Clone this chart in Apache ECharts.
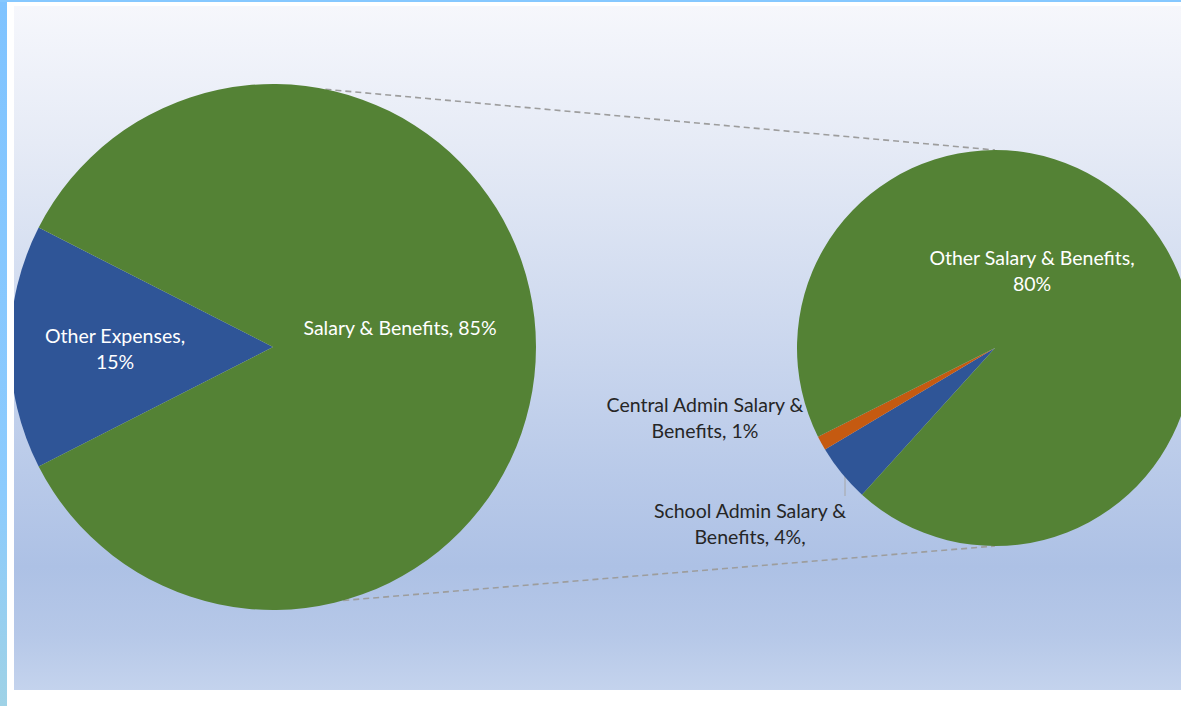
<!DOCTYPE html>
<html>
<head>
<meta charset="utf-8">
<script src="https://cdn.jsdelivr.net/npm/echarts@6/dist/echarts.min.js"></script>
<style>
  html, body { margin: 0; padding: 0; width: 1181px; height: 706px; background: #ffffff; overflow: hidden; position: relative; }
  #leftStrip { position: absolute; left: 0; top: 0; width: 7px; height: 706px; background: linear-gradient(to bottom, #7fc3ff 0%, #8ccbfd 70%, #9fd2e6 100%); }
  #topStrip { position: absolute; left: 0; top: 0; width: 1181px; height: 2px; background: #86c8ff; }
  #chart { position: absolute; left: 14px; top: 6px; width: 1167px; height: 684px;
    background: linear-gradient(to bottom, #f6f7fc 0%, #e6ebf6 20%, #cfdaef 45%, #b9cae9 68%, #adc1e5 82%, #b6c8e8 92%, #c4d3ed 100%); }
</style>
</head>
<body>
<div id="leftStrip"></div>
<div id="topStrip"></div>
<div id="chart"></div>
<script>
// ---- data ----
const mainCategories = ['Other Expenses', 'Salary & Benefits'];
const mainValues = [15, 85];
const mainLabels = ['Other Expenses,\n15%', 'Salary & Benefits, 85%'];

const detailCategories = ['School Admin Salary & Benefits', 'Central Admin Salary & Benefits', 'Other Salary & Benefits'];
const detailValues = [4, 1, 80];
const detailLabels = ['School Admin Salary &\nBenefits, 4%,', 'Central Admin Salary &\nBenefits, 1%', 'Other Salary & Benefits,\n80%'];

// ---- styles / layout ----
const GREEN = '#548235', BLUE = '#2f5597', ORANGE = '#c55a11';
const FONT = 'Lato';
const FONT_SIZE = 19.5;
const mainCenter = [259, 341], mainR = 263;
const detCenter = [981, 342], detR = 198;

const mainColors = [BLUE, GREEN];
const detailColors = [BLUE, ORANGE, GREEN];

// label anchor positions (container coords)
const mainLabelPos = [[101, 342], [386, 321]];
const detailLabelPos = [[736, 517], [691, 411], [1018, 264]];

function connector(angDeg, toY) {
  const a = angDeg * Math.PI / 180;
  return {
    type: 'line',
    silent: true,
    z: 1,
    shape: {
      x1: mainCenter[0] + mainR * Math.cos(a),
      y1: mainCenter[1] - mainR * Math.sin(a),
      x2: detCenter[0],
      y2: toY
    },
    style: { stroke: '#9d9d9d', lineWidth: 1.6, lineDash: [6, 4] }
  };
}

const chart = echarts.init(document.getElementById('chart'), null, { renderer: 'svg' });
chart.setOption({
  backgroundColor: 'transparent',
  animation: false,
  graphic: [
    connector(78.5, detCenter[1] - detR),
    connector(-74.5, detCenter[1] + detR)
  ],
  series: [
    {
      type: 'pie',
      center: mainCenter,
      radius: [0, mainR],
      startAngle: 207,
      clockwise: true,
      silent: true,
      z: 2,
      data: mainCategories.map((c, i) => ({
        name: c, value: mainValues[i], itemStyle: { color: mainColors[i] }
      })),
      itemStyle: { borderWidth: 0 },
      label: {
        show: true,
        position: 'inside',
        formatter: p => mainLabels[p.dataIndex],
        color: '#ffffff',
        fontFamily: FONT,
        fontSize: FONT_SIZE,
        lineHeight: 26,
        align: 'center'
      },
      labelLine: { show: false },
      labelLayout: p => ({
        x: mainLabelPos[p.dataIndex][0],
        y: mainLabelPos[p.dataIndex][1],
        align: 'center',
        verticalAlign: 'middle'
      })
    },
    {
      type: 'pie',
      center: detCenter,
      radius: [0, detR],
      startAngle: 227.8,
      clockwise: true,
      silent: true,
      z: 2,
      data: detailCategories.map((c, i) => ({
        name: c, value: detailValues[i], itemStyle: { color: detailColors[i] },
        label: i < 2 ? { position: 'outside', color: '#262626' } : { position: 'inside', color: '#ffffff' },
        labelLine: i === 0 ? { show: true, length: 5, length2: 5, lineStyle: { color: '#a6a6a6', width: 1 } } : { show: false }
      })),
      itemStyle: { borderWidth: 0 },
      label: {
        show: true,
        formatter: p => detailLabels[p.dataIndex],
        fontFamily: FONT,
        fontSize: FONT_SIZE,
        lineHeight: 26,
        align: 'center'
      },
      labelLayout: p => {
        const r = {
          x: detailLabelPos[p.dataIndex][0],
          y: detailLabelPos[p.dataIndex][1],
          align: 'center',
          verticalAlign: 'middle'
        };
        if (p.dataIndex === 0) {
          r.labelLinePoints = [[831, 490], [831, 466], [831, 466]];
        }
        return r;
      }
    }
  ]
});
</script>
</body>
</html>
